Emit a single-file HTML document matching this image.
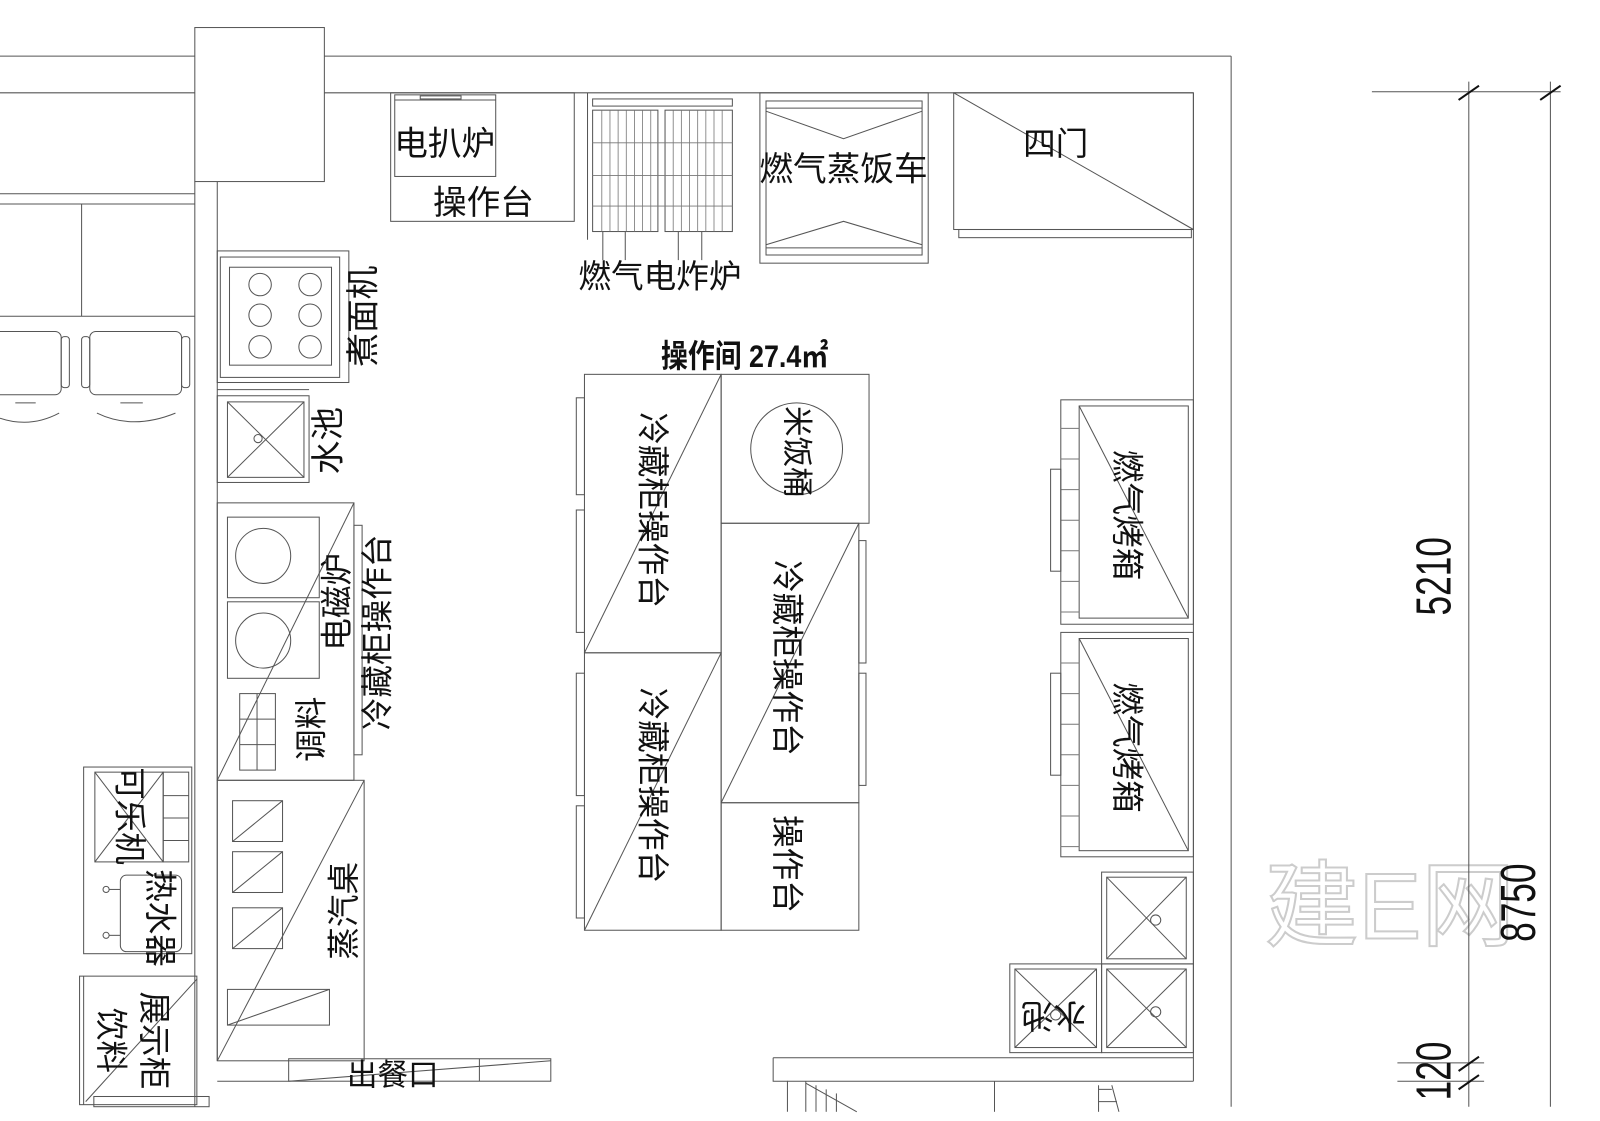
<!DOCTYPE html>
<html><head><meta charset="utf-8"><style>
html,body{margin:0;padding:0;background:#fff;}
svg{display:block;}
text{font-family:"Liberation Sans","Noto Sans CJK SC",sans-serif;fill:#111;}
</style></head><body>
<svg width="1600" height="1121" viewBox="0 0 1600 1121" xmlns="http://www.w3.org/2000/svg">
<g transform="scale(1.02)" fill="none" stroke="#555" stroke-width="1">
<text x="1240" y="920" font-size="92" fill="none" stroke="#ccc" stroke-width="2" style="fill:none">建E网</text>
<rect x="191" y="27" width="127" height="151"/>
<line x1="0" y1="55" x2="191" y2="55"/><line x1="0" y1="91" x2="191" y2="91"/>
<line x1="0" y1="190" x2="191" y2="190"/><line x1="0" y1="200" x2="191" y2="200"/>
<line x1="80" y1="200" x2="80" y2="310"/><line x1="0" y1="310" x2="191" y2="310"/>
<rect x="-10" y="325" width="70" height="62" rx="6"/><rect x="88" y="325" width="90" height="62" rx="6"/>
<rect x="60" y="330" width="8" height="50" rx="3"/><rect x="80" y="330" width="8" height="50" rx="3"/><rect x="178" y="330" width="8" height="50" rx="3"/>
<path d="M0 410 Q30 420 58 405"/><path d="M95 405 Q130 422 172 405"/>
<line x1="15" y1="395" x2="35" y2="395"/><line x1="118" y1="395" x2="140" y2="395"/>
<line x1="318" y1="55" x2="1207" y2="55"/><line x1="318" y1="91" x2="1170" y2="91"/>
<line x1="1207" y1="55" x2="1207" y2="1085"/><line x1="1170" y1="91" x2="1170" y2="1060"/>
<line x1="191" y1="178" x2="191" y2="1085"/><line x1="213" y1="178" x2="213" y2="1040"/>
<rect x="383" y="91" width="180" height="126"/><rect x="387" y="93" width="99" height="80"/>
<line x1="387" y1="98" x2="486" y2="98"/><rect x="412" y="94" width="40" height="3"/>
<line x1="576" y1="91" x2="576" y2="235"/>
<rect x="581" y="97" width="137" height="7"/>
<rect x="581" y="108" width="64" height="119"/><rect x="652" y="108" width="66" height="119"/>
<g stroke="#777" stroke-width="0.8">
<line x1="590" y1="108" x2="590" y2="227"/><line x1="598" y1="108" x2="598" y2="227"/><line x1="606" y1="108" x2="606" y2="227"/><line x1="614" y1="108" x2="614" y2="227"/><line x1="622" y1="108" x2="622" y2="227"/><line x1="630" y1="108" x2="630" y2="227"/><line x1="638" y1="108" x2="638" y2="227"/>
<line x1="660" y1="108" x2="660" y2="227"/><line x1="668" y1="108" x2="668" y2="227"/><line x1="676" y1="108" x2="676" y2="227"/><line x1="684" y1="108" x2="684" y2="227"/><line x1="692" y1="108" x2="692" y2="227"/><line x1="700" y1="108" x2="700" y2="227"/><line x1="708" y1="108" x2="708" y2="227"/>
<line x1="581" y1="140" x2="718" y2="140"/><line x1="581" y1="172" x2="718" y2="172"/><line x1="581" y1="202" x2="718" y2="202"/>
</g>
<line x1="591" y1="227" x2="591" y2="255"/><line x1="613" y1="227" x2="613" y2="255"/><line x1="665" y1="227" x2="665" y2="255"/><line x1="688" y1="227" x2="688" y2="255"/>
<rect x="745" y="91" width="165" height="167"/><rect x="751" y="99" width="153" height="151"/>
<line x1="751" y1="106" x2="904" y2="106"/><line x1="751" y1="243" x2="904" y2="243"/>
<polyline points="751,109 827,136 904,109"/><polyline points="751,240 827,217 904,240"/>
<rect x="935" y="91" width="235" height="134"/><line x1="935" y1="91" x2="1170" y2="225"/>
<rect x="940" y="225" width="228" height="8"/>
<rect x="573" y="367" width="134" height="273"/><rect x="573" y="640" width="134" height="272"/>
<rect x="707" y="367" width="145" height="146"/><rect x="707" y="513" width="135" height="274"/><rect x="707" y="787" width="135" height="125"/>
<line x1="707" y1="367" x2="573" y2="640"/><line x1="707" y1="640" x2="573" y2="912"/><line x1="842" y1="513" x2="707" y2="787"/>
<circle cx="781" cy="440" r="45"/>
<rect x="565" y="390" width="8" height="95"/><rect x="565" y="500" width="8" height="120"/><rect x="565" y="660" width="8" height="120"/><rect x="565" y="790" width="8" height="110"/>
<rect x="842" y="530" width="7" height="120"/><rect x="842" y="660" width="7" height="110"/>
<rect x="213" y="246" width="129" height="129"/><rect x="216" y="252" width="117" height="118"/><rect x="225" y="262" width="100" height="96"/>
<circle cx="255" cy="279" r="11"/><circle cx="304" cy="279" r="11"/><circle cx="255" cy="309" r="11"/><circle cx="304" cy="309" r="11"/><circle cx="255" cy="340" r="11"/><circle cx="304" cy="340" r="11"/>
<line x1="213" y1="382" x2="303" y2="382"/>
<rect x="213" y="388" width="90" height="85"/><rect x="223" y="394" width="75" height="74"/>
<line x1="223" y1="394" x2="298" y2="468"/><line x1="298" y1="394" x2="223" y2="468"/><circle cx="253" cy="430" r="4"/>
<rect x="213" y="493" width="134" height="272"/><line x1="347" y1="493" x2="213" y2="765"/>
<rect x="223" y="507" width="90" height="79"/><rect x="223" y="590" width="90" height="75"/>
<circle cx="258" cy="545" r="27"/><circle cx="258" cy="628" r="27"/>
<rect x="235" y="680" width="35" height="75"/><line x1="252" y1="680" x2="252" y2="755"/><line x1="235" y1="705" x2="270" y2="705"/><line x1="235" y1="730" x2="270" y2="730"/>
<rect x="347" y="515" width="8" height="225"/>
<rect x="213" y="765" width="144" height="275"/><line x1="357" y1="765" x2="213" y2="1040"/>
<rect x="228" y="785" width="49" height="40"/><line x1="228" y1="825" x2="277" y2="785"/>
<rect x="228" y="835" width="49" height="40"/><line x1="228" y1="875" x2="277" y2="835"/>
<rect x="228" y="890" width="49" height="40"/><line x1="228" y1="930" x2="277" y2="890"/>
<rect x="223" y="970" width="100" height="35"/><line x1="223" y1="1005" x2="323" y2="970"/>
<rect x="283" y="1038" width="257" height="22"/><line x1="283" y1="1060" x2="540" y2="1040"/><line x1="470" y1="1038" x2="470" y2="1060"/>
<line x1="213" y1="1060" x2="283" y2="1060"/>
<rect x="82" y="752" width="106" height="183"/><rect x="93" y="757" width="67" height="88"/>
<line x1="93" y1="757" x2="160" y2="845"/><line x1="160" y1="757" x2="93" y2="845"/>
<rect x="160" y="757" width="25" height="88"/><line x1="160" y1="780" x2="185" y2="780"/><line x1="160" y1="802" x2="185" y2="802"/><line x1="160" y1="824" x2="185" y2="824"/>
<rect x="118" y="858" width="60" height="75" rx="6"/>
<circle cx="104" cy="872" r="3"/><line x1="107" y1="872" x2="118" y2="872"/><circle cx="104" cy="917" r="3"/><line x1="107" y1="917" x2="118" y2="917"/>
<rect x="78" y="957" width="115" height="126"/><line x1="82" y1="957" x2="82" y2="1083"/><line x1="84" y1="1080" x2="193" y2="960"/>
<rect x="92" y="1075" width="113" height="10"/>
<rect x="1040" y="392" width="130" height="220"/><rect x="1058" y="398" width="107" height="208"/><line x1="1058" y1="398" x2="1165" y2="606"/>
<rect x="1040" y="620" width="130" height="220"/><rect x="1058" y="626" width="107" height="208"/><line x1="1058" y1="626" x2="1165" y2="834"/>
<g stroke="#777">
<line x1="1040" y1="420" x2="1058" y2="420"/><line x1="1040" y1="450" x2="1058" y2="450"/><line x1="1040" y1="480" x2="1058" y2="480"/><line x1="1040" y1="510" x2="1058" y2="510"/><line x1="1040" y1="540" x2="1058" y2="540"/><line x1="1040" y1="570" x2="1058" y2="570"/><line x1="1040" y1="600" x2="1058" y2="600"/>
<line x1="1040" y1="650" x2="1058" y2="650"/><line x1="1040" y1="680" x2="1058" y2="680"/><line x1="1040" y1="710" x2="1058" y2="710"/><line x1="1040" y1="740" x2="1058" y2="740"/><line x1="1040" y1="770" x2="1058" y2="770"/><line x1="1040" y1="800" x2="1058" y2="800"/><line x1="1040" y1="830" x2="1058" y2="830"/>
</g>
<rect x="1030" y="460" width="10" height="100"/><rect x="1030" y="660" width="10" height="100"/>
<rect x="1080" y="855" width="90" height="90"/><rect x="1085" y="860" width="78" height="80"/><line x1="1085" y1="860" x2="1163" y2="940"/><line x1="1163" y1="860" x2="1085" y2="940"/><circle cx="1133" cy="902" r="5"/>
<rect x="1080" y="945" width="90" height="87"/><rect x="1085" y="950" width="78" height="77"/><line x1="1085" y1="950" x2="1163" y2="1027"/><line x1="1163" y1="950" x2="1085" y2="1027"/><circle cx="1133" cy="992" r="5"/>
<rect x="990" y="945" width="90" height="87"/><rect x="995" y="950" width="80" height="77"/><line x1="995" y1="950" x2="1075" y2="1027"/><line x1="1075" y1="950" x2="995" y2="1027"/><circle cx="1035" cy="995" r="5"/>
<line x1="758" y1="1037" x2="1170" y2="1037"/><line x1="772" y1="1060" x2="1170" y2="1060"/>
<polyline points="758,1037 758,1060 772,1060 772,1090"/>
<line x1="790" y1="1060" x2="790" y2="1090"/><line x1="975" y1="1060" x2="975" y2="1090"/>
<line x1="790" y1="1062" x2="840" y2="1090"/><line x1="800" y1="1064" x2="800" y2="1090"/><line x1="810" y1="1068" x2="810" y2="1090"/><line x1="820" y1="1072" x2="820" y2="1090"/>
<line x1="1077" y1="1064" x2="1077" y2="1090"/><line x1="1077" y1="1068" x2="1090" y2="1068"/><line x1="1077" y1="1080" x2="1095" y2="1080"/><line x1="1090" y1="1064" x2="1097" y2="1090"/>
<line x1="1345" y1="90" x2="1530" y2="90"/>
<line x1="1440" y1="80" x2="1440" y2="1085"/><line x1="1520" y1="80" x2="1520" y2="1085"/>
<line x1="1430" y1="98" x2="1450" y2="84" stroke="#111" stroke-width="2"/><line x1="1510" y1="98" x2="1530" y2="84" stroke="#111" stroke-width="2"/>
<line x1="1370" y1="1042" x2="1455" y2="1042"/><line x1="1370" y1="1060" x2="1455" y2="1060"/>
<line x1="1430" y1="1050" x2="1450" y2="1036" stroke="#111" stroke-width="2"/><line x1="1430" y1="1068" x2="1450" y2="1054" stroke="#111" stroke-width="2"/>
</g>
<g transform="scale(1.02)" stroke="none">
<text x="436" y="152" font-size="33" text-anchor="middle">电扒炉</text>
<text x="474" y="210" font-size="33" text-anchor="middle">操作台</text>
<text x="647" y="282" font-size="32" text-anchor="middle">燃气电炸炉</text>
<text x="827" y="177" font-size="33" text-anchor="middle">燃气蒸饭车</text>
<text x="1035" y="152" font-size="32" text-anchor="middle">四门</text>
<text x="730" y="360" font-size="31" text-anchor="middle" font-weight="bold" transform="translate(730 0) scale(0.85 1) translate(-730 0)">操作间 27.4㎡</text>
<text font-size="32" text-anchor="middle" transform="translate(1094 505) rotate(90)">燃气烤箱</text>
<text font-size="32" text-anchor="middle" transform="translate(1094 733) rotate(90)">燃气烤箱</text>
<text font-size="32" text-anchor="middle" transform="translate(629 500) rotate(90)">冷藏柜操作台</text>
<text font-size="32" text-anchor="middle" transform="translate(629 770) rotate(90)">冷藏柜操作台</text>
<text font-size="32" text-anchor="middle" transform="translate(761 645) rotate(90)">冷藏柜操作台</text>
<text font-size="30" text-anchor="middle" transform="translate(771 443) rotate(90)">米饭桶</text>
<text font-size="32" text-anchor="middle" transform="translate(761 847) rotate(90)">操作台</text>
<text font-size="33" text-anchor="middle" transform="translate(367 310) rotate(-90)">煮面机</text>
<text font-size="33" text-anchor="middle" transform="translate(333 432) rotate(-90)">水池</text>
<text font-size="32" text-anchor="middle" transform="translate(341 590) rotate(-90)">电磁炉</text>
<text font-size="32" text-anchor="middle" transform="translate(381 620) rotate(-90)">冷藏柜操作台</text>
<text font-size="32" text-anchor="middle" transform="translate(316 715) rotate(-90)">调料</text>
<text font-size="32" text-anchor="middle" transform="translate(348 893) rotate(-90)">蒸汽桌</text>
<text x="385" y="1064" font-size="30" text-anchor="middle">出餐口</text>
<text font-size="32" text-anchor="middle" transform="translate(116 800) rotate(90)">可乐机</text>
<text font-size="32" text-anchor="middle" transform="translate(146 900) rotate(90)">热水器</text>
<text font-size="32" text-anchor="middle" transform="translate(98 1020) rotate(90)">饮料</text>
<text font-size="32" text-anchor="middle" transform="translate(140 1020) rotate(90)">展示柜</text>
<text font-size="32" text-anchor="middle" transform="translate(1033 985) rotate(180)">水池</text>
<text font-size="48" text-anchor="middle" transform="translate(1422 565) rotate(-90) scale(0.72 1)">5210</text>
<text font-size="48" text-anchor="middle" transform="translate(1505 885) rotate(-90) scale(0.72 1)">8750</text>
<text font-size="48" text-anchor="middle" transform="translate(1422 1050) rotate(-90) scale(0.72 1)">120</text>
</g>
</svg>
</body></html>
